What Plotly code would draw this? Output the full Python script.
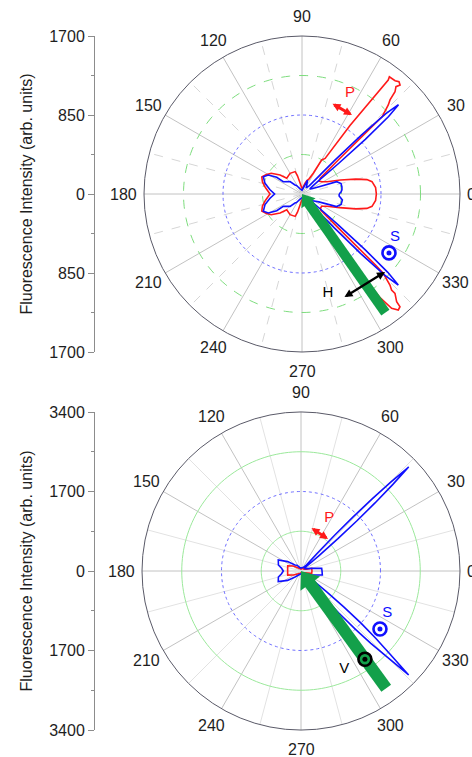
import numpy as np
import plotly.graph_objects as go

W, H = 472, 757
FONT = "Arial, 'Liberation Sans', Helvetica, sans-serif"

# ---------------- data ----------------
# upper panel: emission pattern, H-polarised excitation (full scale 1700)
top_red_theta = [0, 5, 10, 12.5, 15.5, 20, 26, 32, 37, 41, 43, 44, 45.9, 46.9, 47.7, 48.8, 48, 49.2,
                 50.6, 53.3, 52.9, 55, 57, 60, 61.5, 65, 70, 74, 80, 90, 100, 104, 107, 120, 134, 139,
                 146, 152, 157, 163, 170, 180, 190, 197, 203, 208, 214, 221, 226, 240, 253, 256, 260,
                 270, 280, 290, 300, 305, 307, 308.1, 309.7, 311, 311.3, 313.1, 313, 314, 315.7, 316,
                 317, 319, 323, 328, 334, 340, 344.5, 347.5, 350, 355, 360]
top_red_r = [800, 795, 765, 715, 600, 440, 300, 250, 230, 260, 500, 1200, 1334, 1386, 1487, 1535, 1577, 1597,
             1578, 1573, 1538, 900, 457, 423, 254, 180, 150, 120, 80, 60, 120, 205, 252, 257, 236, 312,
             400, 440, 470, 445, 400, 344, 400, 445, 470, 440, 400, 312, 236, 257, 252, 205, 120,
             60, 80, 120, 200, 600, 1400, 1563, 1622, 1607, 1543, 1464, 1413, 1362, 1222, 1100,
             500, 270, 250, 250, 300, 430, 600, 715, 765, 795, 800]

top_blue_theta = [0, 3, 6, 10, 15, 19.5, 23, 28, 33, 37, 38.8, 39.8, 40.8, 41.8, 42.8, 43.8, 44.8, 45.8,
                  46.8, 48.3, 55, 62, 68, 72, 80, 90, 110, 123, 128, 134, 146.7, 146.6, 150.6, 155.9,
                  163.9, 172, 180, 188, 196, 204.1, 209.4, 213.4, 213.3, 226, 232, 237, 250, 270, 290,
                  300, 305, 310, 311.1, 312.6, 313.6, 314.6, 315.6, 316.6, 317.6, 318.6, 319.6, 320.6,
                  322.1, 330, 335, 340, 345, 351.5, 354, 357, 360]
top_blue_r = [400, 420, 432, 436, 435, 396, 200, 120, 100, 150, 250, 500, 900, 1250, 1415, 1250, 900, 500,
              250, 120, 80, 110, 160, 100, 60, 40, 60, 110, 123, 185, 241, 326, 416, 456,
              414, 350, 295, 350, 414, 456, 416, 326, 241, 185, 123, 110, 60, 40, 60,
              100, 150, 180, 120, 250, 500, 900, 1250, 1426, 1250, 900, 500, 250,
              120, 150, 200, 396, 436, 439, 420, 400, 400]

# lower panel: emission pattern, V-polarised excitation (full scale 3400)
bot_red_theta = [0, 14, 20, 30, 40, 60, 90, 120, 147, 159, 170, 180, 190, 197, 207, 240, 270, 300, 316,
                 330, 348, 360]
bot_red_r = [235, 236, 120, 80, 100, 60, 40, 60, 196, 304, 290, 285, 290, 297, 185, 60, 40, 60, 150,
             80, 234, 235]

bot_blue_theta = [0, 7.4, 14, 20, 30, 38, 39.8, 40.5, 41.2, 41.9, 42.6, 43.3, 44.0, 44.7, 45.4, 46.1,
                  46.8, 47.5, 48.2, 55, 70, 90, 110, 125, 135, 145, 154, 165, 172, 180, 188, 195, 205,
                  215, 225, 240, 270, 300, 308, 310, 311, 312, 313, 314, 315, 316, 317, 318, 319, 320,
                  321, 322, 330, 339.5, 349.4, 360]
bot_blue_r = [450, 446, 236, 150, 100, 100, 150, 500, 1050, 1600, 2150, 2700, 3200, 2700, 2150, 1600,
              1050, 500, 150, 100, 80, 60, 80, 150, 182, 350, 540, 500, 420, 378, 420, 500, 537,
              350, 180, 100, 60, 80, 150, 250, 700, 1200, 1700, 2150, 2600, 3200, 2600, 2150, 1700, 1200,
              700, 250, 120, 244, 464, 450]

angle_ticks = list(range(0, 360, 30))
angle_labels = [str(a) for a in angle_ticks]
side_ticks_top = [1700, 850, 0, -850, -1700]
side_labels_top = ["1700", "850", "0", "850", "1700"]
side_ticks_bot = [3400, 1700, 0, -1700, -3400]
side_labels_bot = ["3400", "1700", "0", "1700", "3400"]

# excitation beam (direction, length) and annotation positions (theta, r)
top_beam = (305.1, 1560)
bot_beam = (306.0, 3100)
top_P_arrow = [(57.7, 1006), (72.3, 1028)]
top_P_label = (64.6, 1203)
top_H_arrow = [(316.8, 1226), (291.5, 1203)]
top_H_label = (284.7, 1101)
top_S_label = (335.2, 1103)
top_S_mark = (325.9, 1130)
bot_P_arrow = [(49.8, 895), (78.4, 960)]
bot_P_label = (61.7, 1279)
bot_S_label = (333.9, 2055)
bot_S_mark = (323.7, 2095)
bot_V_label = (293.8, 2297)
bot_V_mark = (305.9, 2331)

RED = "#ff1a1a"
BLUE = "#1010ff"
GREEN = "#13a04a"

# ---------------- layout geometry ----------------
TOP_C, TOP_R = (302, 194), 158
BOT_C, BOT_R = (301, 571), 159
LABEL_R = 1.125      # angle labels, as a fraction of the outer radius
LABEL_GAP = 6        # px between the circle and the 0 / 180 labels


def dom(c, R):
    cx, cy = c
    return [(cx - R) / W, (cx + R) / W], [1 - (cy + R) / H, 1 - (cy - R) / H]


def frame(c, R, rmax, pad=1.3):
    """Square-scaled cartesian frame sharing the polar origin, reaching past the circle."""
    cx, cy = c
    u = rmax / R
    x0, x1 = max(cx - pad * R, 0), min(cx + pad * R, W)
    y0, y1 = max(cy - pad * R, 0), min(cy + pad * R, H)  # from top
    xa = dict(domain=[x0 / W, x1 / W], range=[(x0 - cx) * u, (x1 - cx) * u])
    ya = dict(domain=[1 - y1 / H, 1 - y0 / H], range=[(cy - y1) * u, (cy - y0) * u])
    return xa, ya


top_dx, top_dy = dom(TOP_C, TOP_R)
bot_dx, bot_dy = dom(BOT_C, BOT_R)
side_dx = [95 / W, 105 / W]

fig = go.Figure()
ring_theta = list(range(0, 361, 2))


def ring(sub, r, color, dash):
    fig.add_trace(go.Scatterpolar(r=[r] * len(ring_theta), theta=ring_theta, mode="lines",
                                  line=dict(color=color, dash=dash, width=1), subplot=sub,
                                  hoverinfo="skip", showlegend=False))


def spokes(sub, rmax, color, dash):
    rr, tt = [], []
    for a in range(15, 360, 30):
        rr += [0, rmax, None]
        tt += [a, a, None]
    fig.add_trace(go.Scatterpolar(r=rr, theta=tt, mode="lines",
                                  line=dict(color=color, dash=dash, width=1), subplot=sub,
                                  hoverinfo="skip", showlegend=False))


def curve(sub, th, r, color):
    fig.add_trace(go.Scatterpolar(r=r, theta=th, mode="lines", line=dict(color=color, width=1.6),
                                  subplot=sub, hoverinfo="skip", showlegend=False))


def beam(sub, b, rmax, R, width, head):
    # thick shaft plus a triangular head whose tip sits on the origin
    unit = rmax / R  # data units per pixel
    tip_to_centroid = head / 2 * unit
    base = 1.5 * head / 2 * unit
    fig.add_trace(go.Scatterpolar(r=[base * 0.9, b[1]], theta=[b[0], b[0]], mode="lines",
                                  line=dict(color=GREEN, width=width), subplot=sub,
                                  hoverinfo="skip", showlegend=False))
    fig.add_trace(go.Scatterpolar(r=[tip_to_centroid], theta=[b[0]], mode="markers",
                                  marker=dict(symbol="triangle-up", size=head, color=GREEN,
                                              angle=90 - (b[0] - 180), line=dict(width=0)),
                                  subplot=sub, hoverinfo="skip", showlegend=False, cliponaxis=False))


def label(sub, pos, text, color, size=15):
    fig.add_trace(go.Scatterpolar(r=[pos[1]], theta=[pos[0]], mode="text", text=[text],
                                  textfont=dict(color=color, size=size, family=FONT),
                                  subplot=sub, hoverinfo="skip", showlegend=False, cliponaxis=False))


def dot_mark(sub, pos, color):
    fig.add_trace(go.Scatterpolar(r=[pos[1]], theta=[pos[0]], mode="markers",
                                  marker=dict(symbol="circle-open", size=13, color=color,
                                              line=dict(width=2.6, color=color)),
                                  subplot=sub, hoverinfo="skip", showlegend=False))
    fig.add_trace(go.Scatterpolar(r=[pos[1]], theta=[pos[0]], mode="markers",
                                  marker=dict(symbol="circle", size=5, color=color),
                                  subplot=sub, hoverinfo="skip", showlegend=False))


# upper panel
spokes("polar", 1700, "#d6d6d6", "dash")
ring("polar", 425, "#7ddc7d", "dash")
ring("polar", 850, "#7070ff", "dot")
ring("polar", 1275, "#7ddc7d", "dash")
curve("polar", top_red_theta, top_red_r, RED)
curve("polar", top_blue_theta, top_blue_r, BLUE)
beam("polar", top_beam, 1700, TOP_R, 10, 15)
label("polar", top_P_label, "P", RED)
label("polar", top_H_label, "H", "black")
label("polar", top_S_label, "S", BLUE)
dot_mark("polar", top_S_mark, BLUE)

# lower panel
spokes("polar2", 3400, "#e2e2e2", "solid")
ring("polar2", 850, "#9be89b", "solid")
ring("polar2", 1700, "#7070ff", "dot")
ring("polar2", 2550, "#9be89b", "solid")
curve("polar2", bot_red_theta, bot_red_r, RED)
curve("polar2", bot_blue_theta, bot_blue_r, BLUE)
beam("polar2", bot_beam, 3400, BOT_R, 12, 21)
label("polar2", bot_P_label, "P", RED)
label("polar2", bot_V_label, "V", "black")
label("polar2", bot_S_label, "S", BLUE)
dot_mark("polar2", bot_S_mark, BLUE)
dot_mark("polar2", bot_V_mark, "black")

# anchors for the side scales and the overlay frames used by the arrows and angle labels
for xa, ya in [("x", "y"), ("x2", "y2"), ("x3", "y3"), ("x4", "y4")]:
    fig.add_trace(go.Scatter(x=[0], y=[0], xaxis=xa, yaxis=ya, mode="markers",
                             marker=dict(opacity=0), hoverinfo="skip", showlegend=False))


def polar_layout(dx, dy, rmax):
    return dict(
        domain=dict(x=dx, y=dy), bgcolor="white",
        angularaxis=dict(rotation=0, direction="counterclockwise", tickmode="array",
                         tickvals=angle_ticks, showticklabels=False,
                         showgrid=True, gridcolor="#c2c2c2", gridwidth=1,
                         showline=True, linecolor="#5a5a68", linewidth=1, ticks=""),
        radialaxis=dict(visible=False, range=[0, rmax]),
    )


def side_axis(dy, rmax, vals, texts):
    return dict(domain=dy, range=[-rmax, rmax], tickmode="array", tickvals=vals, ticktext=texts,
                showline=True, linecolor="#8c8c8c", linewidth=1, ticks="outside", ticklen=6,
                tickcolor="#8c8c8c", showgrid=False, zeroline=False, automargin=False,
                minor=dict(tickmode="array", tickvals=[-0.75 * rmax, -0.25 * rmax, 0.25 * rmax, 0.75 * rmax],
                           ticks="outside", ticklen=3, tickcolor="#8c8c8c"),
                tickfont=dict(size=16, color="#1e1e1e", family=FONT),
                title=dict(text="Fluorescence Intensity (arb. units)", standoff=12,
                           font=dict(size=16, color="#1e1e1e", family=FONT)),
                side="left", fixedrange=True)


def xy(p):
    t = np.deg2rad(p[0])
    return float(p[1] * np.cos(t)), float(p[1] * np.sin(t))


annotations = []


def arrow(xr, yr, head, tail, color, width, size, style=2):
    hx, hy = xy(head)
    tx, ty = xy(tail)
    annotations.append(dict(x=hx, y=hy, ax=tx, ay=ty, xref=xr, yref=yr, axref=xr, ayref=yr, text="",
                            showarrow=True, arrowhead=style, startarrowhead=style, arrowsize=size,
                            startarrowsize=size, arrowwidth=width, arrowcolor=color,
                            arrowside="end+start", standoff=0, startstandoff=0))


def angle_text(xr, yr, rmax, R):
    for a, t in zip(angle_ticks, angle_labels):
        c = np.cos(np.deg2rad(a))
        if abs(c) > 0.99:
            r = rmax * (1 + LABEL_GAP / R)
            anchor = "left" if c > 0 else "right"
        else:
            r = rmax * LABEL_R
            anchor = "center"
        x, y = xy((a, r))
        annotations.append(dict(x=x, y=y, xref=xr, yref=yr, text=t, showarrow=False,
                                xanchor=anchor, yanchor="middle", borderpad=0,
                                font=dict(size=16, color="#1e1e1e", family=FONT)))


angle_text("x3", "y3", 1700, TOP_R)
angle_text("x4", "y4", 3400, BOT_R)
arrow("x3", "y3", top_P_arrow[0], top_P_arrow[1], RED, 2.9, 0.55)
arrow("x3", "y3", top_H_arrow[0], top_H_arrow[1], "black", 2.3, 0.7)
arrow("x4", "y4", bot_P_arrow[0], bot_P_arrow[1], RED, 2.9, 0.55)

fx3, fy3 = frame(TOP_C, TOP_R, 1700)
fx4, fy4 = frame(BOT_C, BOT_R, 3400)
hidden = dict(visible=False, fixedrange=True, automargin=False)

fig.update_layout(
    template="none",
    width=W, height=H, autosize=False, margin=dict(l=0, r=0, t=0, b=0, autoexpand=False),
    paper_bgcolor="white", plot_bgcolor="rgba(0,0,0,0)", showlegend=False,
    font=dict(family=FONT, color="#1e1e1e"),
    polar=polar_layout(top_dx, top_dy, 1700),
    polar2=polar_layout(bot_dx, bot_dy, 3400),
    xaxis=dict(domain=side_dx, anchor="y", **hidden),
    yaxis=dict(anchor="x", **side_axis(top_dy, 1700, side_ticks_top, side_labels_top)),
    xaxis2=dict(domain=side_dx, anchor="y2", **hidden),
    yaxis2=dict(anchor="x2", **side_axis(bot_dy, 3400, side_ticks_bot, side_labels_bot)),
    xaxis3=dict(anchor="y3", **fx3, **hidden),
    yaxis3=dict(anchor="x3", **fy3, **hidden),
    xaxis4=dict(anchor="y4", **fx4, **hidden),
    yaxis4=dict(anchor="x4", **fy4, **hidden),
    annotations=annotations,
)

fig.write_html("out.html")
